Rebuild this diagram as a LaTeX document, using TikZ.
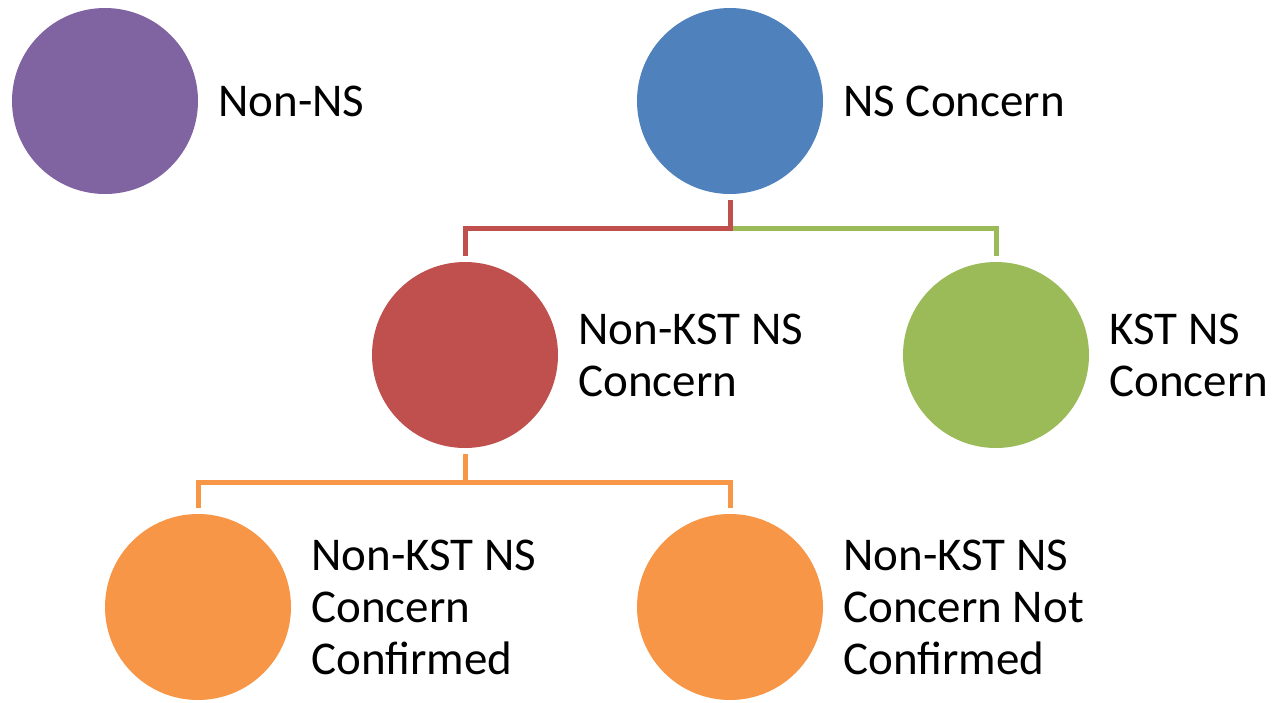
\documentclass[tikz,border=0pt]{standalone}
\usepackage{fontspec}
\setmainfont{Carlito}
\usetikzlibrary{positioning}
\definecolor{purpleFill}{HTML}{8064A2}
\definecolor{blueFill}{HTML}{4F81BD}
\definecolor{redFill}{HTML}{C0504D}
\definecolor{greenFill}{HTML}{9BBB59}
\definecolor{orangeFill}{HTML}{F79646}
\tikzset{
  dot/.style={circle,fill=#1,minimum size=186pt,inner sep=0pt},
  lbl/.style={font=\fontsize{47}{52}\selectfont,align=left,inner sep=0pt,anchor=west},
  link/.style={line width=5pt,draw=#1}
}

\begin{document}
\begin{tikzpicture}[x=1pt,y=-1pt]
      \useasboundingbox (0,0) rectangle (1275,702);
      % circles
      \node[dot=purpleFill] (nonns) at (105,101) {};
      \node[dot=blueFill] (ns) at (730,101) {};
      \node[dot=redFill] (nonkst) at (465,355) {};
      \node[dot=greenFill] (kst) at (996,355) {};
      \node[dot=orangeFill] (conf) at (198,607) {};
      \node[dot=orangeFill] (notconf) at (730,607) {};
      % labels
      \node[lbl,right=20pt of nonns] (nonnsText) {Non-NS};
      \node[lbl,right=20pt of ns] (nsText) {NS Concern};
      \node[lbl,right=20pt of nonkst] (nonkstText) {Non-KST NS\\Concern};
      \node[lbl,right=20pt of kst] (kstText) {KST NS\\Concern};
      \node[lbl,right=20pt of conf] (confText) {Non-KST NS\\Concern\\Confirmed};
      \node[lbl,right=20pt of notconf] (notconfText) {Non-KST NS\\Concern Not\\Confirmed};
      % connectors
      \draw[link=greenFill] ([yshift=-34pt]ns.south) -| ([yshift=6pt]kst.north);
      \draw[link=redFill] ([yshift=-6pt]ns.south) -- ++(0,28) -| ([yshift=6pt]nonkst.north);
      \draw[link=orangeFill] ([yshift=-6pt]nonkst.south) -- ++(0,28) -| ([yshift=6pt]conf.north);
      \draw[link=orangeFill] ([yshift=-34pt]nonkst.south) -| ([yshift=6pt]notconf.north);
\end{tikzpicture}
\end{document}
